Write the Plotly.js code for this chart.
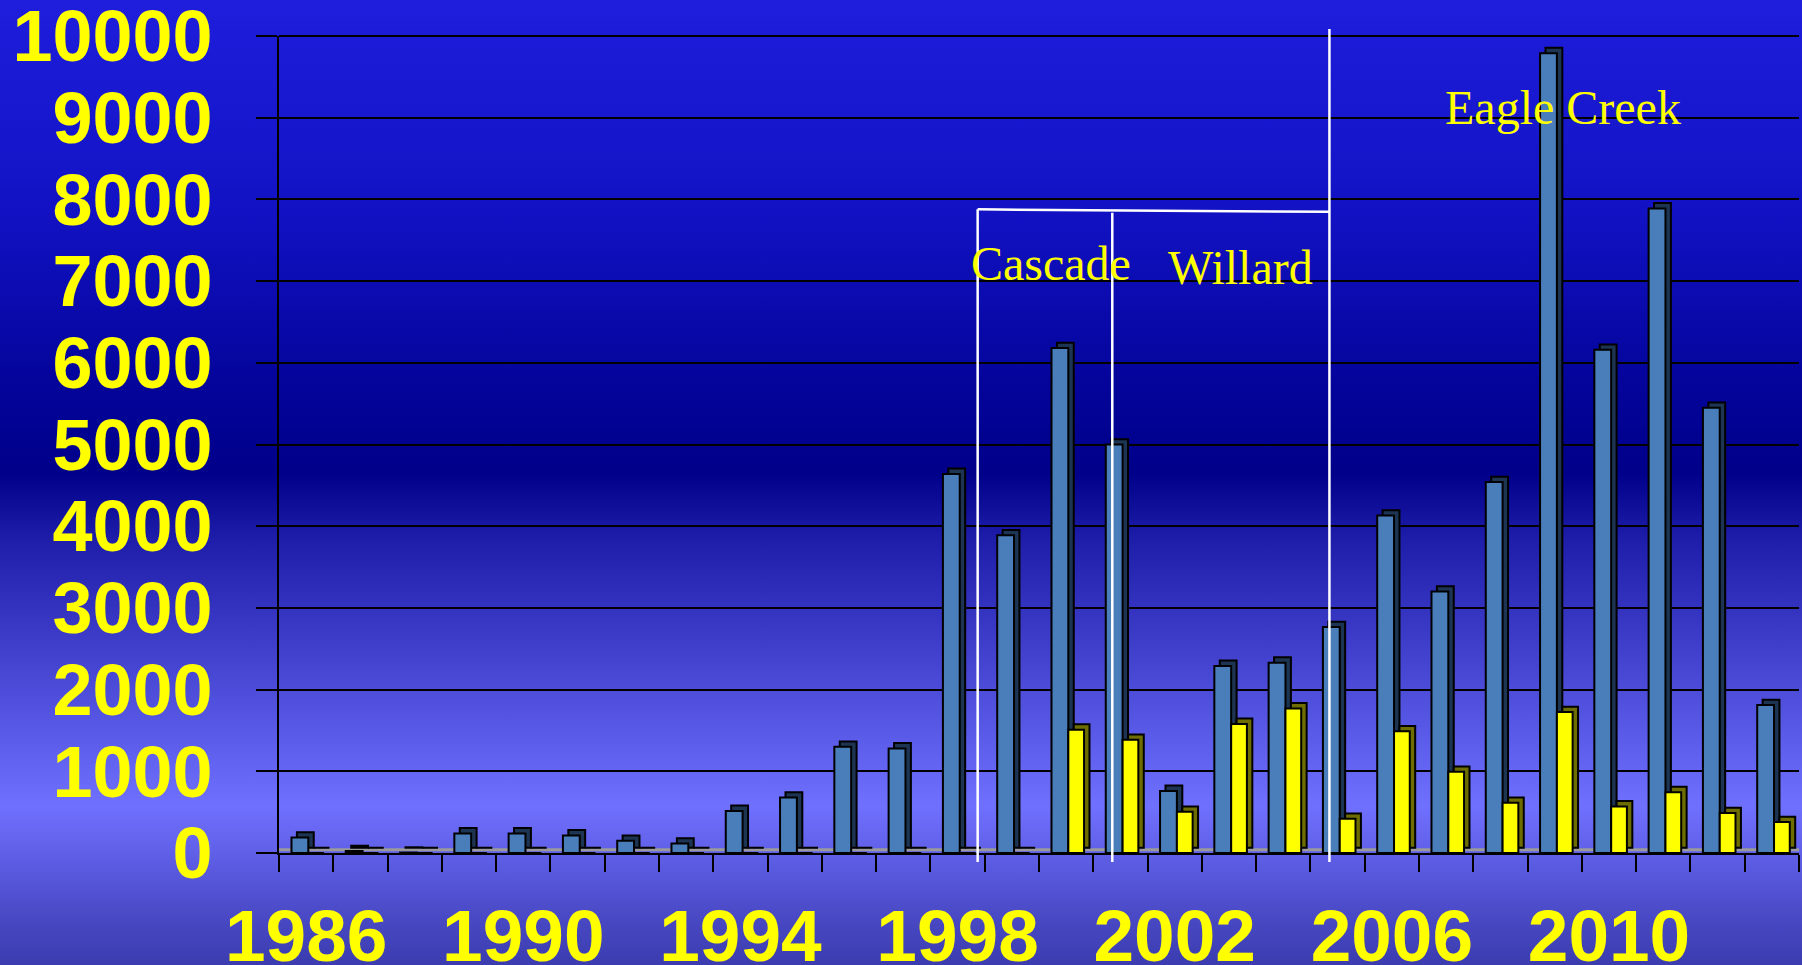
<!DOCTYPE html>
<html>
<head>
<meta charset="utf-8">
<script src="https://cdn.plot.ly/plotly-3.0.1.min.js"></script>
<style>
  html, body { margin: 0; padding: 0; }
  #chart {
    width: 1802px; height: 965px;
    background: linear-gradient(to bottom,
      #1e1edc 0%, #1212c4 22%, #04049a 40%, #00008a 49%,
      #1e1eaa 56%, #3c3cc8 66%, #5a5ae8 76%, #7070ff 83.5%,
      #5a5ae0 90%, #4646c0 96%, #3c3cb0 100%);
  }
</style>
</head>
<body>
<div id="chart"></div>
<script>
// ---- data ----
const years = [1986,1987,1988,1989,1990,1991,1992,1993,1994,1995,1996,1997,1998,1999,
               2000,2001,2002,2003,2004,2005,2006,2007,2008,2009,2010,2011,2012,2013];
const blueValues = [190,25,5,240,240,215,150,115,515,680,1300,1280,4640,3890,
                    6180,5000,760,2290,2330,2765,4130,3200,4540,9790,6160,7890,5450,1810];
const yellowValues = [0,0,0,0,0,0,0,0,0,0,0,0,0,0,
                      1510,1385,505,1580,1770,420,1490,995,615,1725,570,745,490,378];
const tickYears = [1986,1990,1994,1998,2002,2006,2010];
const tickLabels = ["1986","1990","1994","1998","2002","2006","2010"];
const yTicks = [0,1000,2000,3000,4000,5000,6000,7000,8000,9000,10000];
const yTickLabels = ["0","1000","2000","3000","4000","5000","6000","7000","8000","9000","10000"];

// annotation labels
const noteTexts = ["Cascade", "Willard", "Eagle Creek"];
const noteX = [1999.73, 2003.21, 2009.15];
const noteY = [7220, 7170, 9130];
// bracket line positions (x in years, heights as fraction of axis)
const bracketX = [1998.37, 2000.85, 2004.85];
const bracketTop = [0.7878, 0.7836, 1.0086];
const bracketBottom = -0.011;
const bracketTopRight = 0.7848;

// ---- styles ----
const depth = 65;      // value units for the 3D top face
const dx = 0.1;        // category units for the 3D side face
const blueFront = '#4a7ebb', blueSide = '#1d3552';
const yellowFront = '#ffff00', yellowSide = '#6e6e00';
const edge = {color: '#000000', width: 2};

const traces = [
  {type:'bar', x: years, y: blueValues, base: depth, offset: -0.27 + dx, width: 0.31,
   marker:{color: blueSide, line: edge}, hoverinfo:'skip', showlegend:false},
  {type:'bar', x: years, y: blueValues, offset: -0.27, width: 0.31,
   marker:{color: blueFront, line: edge}, name:'Blue', showlegend:false},
  {type:'bar', x: years, y: yellowValues, base: depth, offset: 0.04 + dx, width: 0.29,
   marker:{color: yellowSide, line: edge}, hoverinfo:'skip', showlegend:false},
  {type:'bar', x: years, y: yellowValues, offset: 0.04, width: 0.29,
   marker:{color: yellowFront, line: edge}, name:'Yellow', showlegend:false}
];

const shapes = [];
shapes.push({type:'line', xref:'paper', yref:'paper', x0:0, x1:1, y0:0.004, y1:0.004,
             line:{color:'#9a9a9a', width:3}, layer:'below'});
shapes.push({type:'line', xref:'paper', yref:'paper', x0:0, x1:1, y0:1, y1:1,
             line:{color:'#000000', width:2}, layer:'below'});
for (let i = 0; i < bracketX.length; i++) {
  shapes.push({type:'line', xref:'x', yref:'paper', x0: bracketX[i], x1: bracketX[i],
               y0: bracketBottom, y1: bracketTop[i], line:{color:'#ffffff', width:2.5}});
}
shapes.push({type:'line', xref:'x', yref:'paper', x0: bracketX[0], x1: bracketX[2],
             y0: bracketTop[0], y1: bracketTopRight, line:{color:'#ffffff', width:2.5}});

const annotations = noteTexts.map((t, i) => ({
  text: t, x: noteX[i], y: noteY[i], xref:'x', yref:'y', showarrow:false,
  xanchor:'center', yanchor:'middle',
  font:{family:'Liberation Serif, Times New Roman, serif', size:48, color:'#ffff00'}
}));

const tickFont = {family:'Liberation Sans, Arial, sans-serif', color:'#ffff00', weight:'bold'};

const layout = {
  width: 1802, height: 965,
  margin: {l: 279, r: 3, t: 36, b: 112},
  paper_bgcolor: 'rgba(0,0,0,0)',
  plot_bgcolor: 'rgba(0,0,0,0)',
  barmode: 'overlay',
  showlegend: false,
  xaxis: {
    range: [1985.5, 2013.5],
    tickmode: 'array', tickvals: tickYears, ticktext: tickLabels,
    ticks: '', showgrid: false, zeroline: false,
    showline: true, linecolor: '#000000', linewidth: 2,
    minor: {tickmode:'array', tickvals: years.map(y => y - 0.5).concat([years[years.length-1] + 0.5]),
            ticks:'outside', ticklen: 17, tickwidth: 2, tickcolor:'#000000', showgrid:false},
    tickfont: Object.assign({size: 73}, tickFont),
    ticklabelstandoff: 18,
    ticklabeloverflow: 'allow'
  },
  yaxis: {
    range: [0, 10000],
    tickmode: 'array', tickvals: yTicks, ticktext: yTickLabels,
    showgrid: true, gridcolor: '#000000', gridwidth: 2,
    zeroline: false,
    ticks: 'outside', ticklen: 21, tickwidth: 2, tickcolor: '#000000',
    showline: true, linecolor: '#000000', linewidth: 2,
    tickfont: Object.assign({size: 72}, tickFont),
    ticklabelstandoff: 29,
    ticklabeloverflow: 'allow'
  },
  shapes: shapes,
  annotations: annotations
};

Plotly.newPlot('chart', traces, layout, {displayModeBar: false, staticPlot: true});
</script>
</body>
</html>
